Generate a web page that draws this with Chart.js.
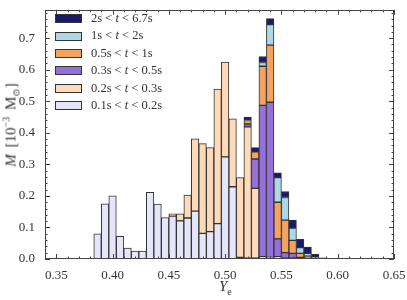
<!DOCTYPE html>
<html>
<head>
<meta charset="utf-8">
<script src="https://cdn.jsdelivr.net/npm/chart.js@4/dist/chart.umd.min.js"></script>
<style>
  body { margin: 0; background: #fff; }
  #wrap { position: relative; width: 407px; height: 300px; font-family: "Liberation Serif", "DejaVu Serif", serif; color: #333; }
  #chart { position: absolute; left: 0; top: 0; }
  #legend { position: absolute; left: 55px; top: 10px; font-size: 12.5px; line-height: 17.4px; }
  #legend div { display: flex; align-items: center; white-space: nowrap; }
  #legend span.box { display: inline-block; width: 25px; height: 7px; border: 1px solid #333; margin-right: 9px; }
  .ytitle { position: absolute; left: 11px; top: 125px; transform: translate(-50%, -50%) rotate(-90deg); font-size: 15px; white-space: nowrap; word-spacing: 3px; }
  .xtitle { position: absolute; left: 219px; top: 278px; font-size: 15px; }
  i { font-style: italic; }
</style>
</head>
<body>
<div id="wrap">
  <canvas id="chart" width="407" height="300"></canvas>
  <div id="legend"></div>
  <div class="ytitle"><i>M</i> [10<sup style="font-size:10px">−3</sup> M<sub style="font-size:10px">⊙</sub>]</div>
  <div class="xtitle"><i>Y</i><sub style="font-size:10px">e</sub></div>
</div>
<script>
// bin centres in Ye
const binCenters = [0.38667, 0.39333, 0.40000, 0.40667, 0.41333, 0.42000, 0.42667, 0.43333, 0.44000, 0.44667,
  0.45333, 0.46000, 0.46667, 0.47333, 0.48000, 0.48667, 0.49333, 0.50000, 0.50667, 0.51333,
  0.52000, 0.52667, 0.53333, 0.54000, 0.54667, 0.55333, 0.56000, 0.56667, 0.57333, 0.58000,
  0.58667, 0.59333, 0.60000, 0.60667];

// mass per bin [10^-3 Msun], one array per time window (bottom of stack first)
const m_01_02 = [0.080, 0.175, 0.200, 0.072, 0.035, 0.025, 0.025, 0.211, 0.174, 0.131,
  0.136, 0.121, 0.130, 0.152, 0.081, 0.087, 0.112, 0.324, 0.229, 0.005,
  0.003, 0.003, 0.002, 0.002, 0.002, 0.001, 0, 0, 0, 0,
  0, 0, 0, 0];
const m_02_03 = [0, 0, 0, 0, 0, 0, 0, 0, 0, 0,
  0.007, 0.022, 0.073, 0.229, 0.285, 0.266, 0.427, 0.300, 0.215, 0.253,
  0.416, 0.221, 0.005, 0.003, 0.005, 0.002, 0.003, 0, 0, 0,
  0, 0, 0, 0];
const m_03_05 = [0, 0, 0, 0, 0, 0, 0, 0, 0, 0,
  0, 0, 0, 0, 0, 0, 0, 0, 0, 0,
  0.009, 0.093, 0.480, 0.492, 0.057, 0.017, 0.015, 0.005, 0.003, 0,
  0, 0, 0, 0];
const m_05_1 = [0, 0, 0, 0, 0, 0, 0, 0, 0, 0,
  0, 0, 0, 0, 0, 0, 0, 0, 0, 0,
  0.011, 0.023, 0.124, 0.181, 0.116, 0.103, 0.041, 0.013, 0.006, 0.002,
  0, 0, 0, 0];
const m_1_2 = [0, 0, 0, 0, 0, 0, 0, 0, 0, 0,
  0, 0, 0, 0, 0, 0, 0, 0, 0, 0,
  0.002, 0, 0.012, 0.065, 0.078, 0.072, 0.039, 0.018, 0.009, 0.004,
  0, 0, 0, 0];
const m_2_67 = [0, 0, 0, 0, 0, 0, 0, 0, 0, 0,
  0, 0, 0, 0, 0, 0, 0, 0, 0, 0,
  0.009, 0.013, 0.019, 0.019, 0.015, 0.019, 0.025, 0.026, 0.020, 0.009,
  0.004, 0.002, 0.002, 0.002];

const xTicks = [0.35, 0.40, 0.45, 0.50, 0.55, 0.60, 0.65];
const yTicks = [0.0, 0.1, 0.2, 0.3, 0.4, 0.5, 0.6, 0.7];

const series = [
  { label: '0.1s < t < 0.2s', html: '0.1s &lt; <i>t</i> &lt; 0.2s', data: m_01_02, color: '#e6e6fa' },
  { label: '0.2s < t < 0.3s', html: '0.2s &lt; <i>t</i> &lt; 0.3s', data: m_02_03, color: '#ffdab9' },
  { label: '0.3s < t < 0.5s', html: '0.3s &lt; <i>t</i> &lt; 0.5s', data: m_03_05, color: '#9370db' },
  { label: '0.5s < t < 1s', html: '0.5s &lt; <i>t</i> &lt; 1s', data: m_05_1, color: '#f4a460' },
  { label: '1s < t < 2s', html: '1s &lt; <i>t</i> &lt; 2s', data: m_1_2, color: '#add8e6' },
  { label: '2s < t < 6.7s', html: '2s &lt; <i>t</i> &lt; 6.7s', data: m_2_67, color: '#191970' }
];

// legend, top entry = last dataset
const legend = document.getElementById('legend');
series.slice().reverse().forEach(s => {
  const row = document.createElement('div');
  row.innerHTML = `<span class="box" style="background:${s.color}"></span><span>${s.html}</span>`;
  legend.appendChild(row);
});

// Mathematica-style frame with inward ticks on all four sides
const frameTicks = {
  id: 'frameTicks',
  afterDatasetsDraw(chart) {
    const { ctx, chartArea: a, scales: { x, y } } = chart;
    ctx.save();
    ctx.strokeStyle = '#444';
    ctx.lineWidth = 1;
    const seg = (x1, y1, x2, y2) => { ctx.beginPath(); ctx.moveTo(x1, y1); ctx.lineTo(x2, y2); ctx.stroke(); };
    for (let i = 34; i <= 65; i++) {
      const px = Math.round(x.getPixelForValue(i / 100)) + 0.5;
      const len = i % 5 === 0 ? 5 : 2.5;
      seg(px, a.bottom, px, a.bottom - len);
      seg(px, a.top, px, a.top + len);
    }
    for (let i = 0; i <= 78; i += 2) {
      const py = Math.round(y.getPixelForValue(i / 100)) + 0.5;
      const len = i % 10 === 0 ? 5 : 2.5;
      seg(a.left, py, a.left + len, py);
      seg(a.right, py, a.right - len, py);
    }
    ctx.strokeRect(Math.round(a.left) + 0.5, Math.round(a.top) + 0.5,
      Math.round(a.right - a.left) - 1, Math.round(a.bottom - a.top) - 1);
    ctx.restore();
  }
};

new Chart(document.getElementById('chart'), {
  type: 'bar',
  data: {
    datasets: series.map(s => ({
      label: s.label,
      data: binCenters.map((c, i) => ({ x: c, y: s.data[i] })),
      backgroundColor: s.color,
      borderColor: '#333',
      borderWidth: 1,
      borderSkipped: false,
      barPercentage: 1,
      categoryPercentage: 1
    }))
  },
  options: {
    responsive: false,
    animation: false,
    layout: { padding: { top: 4, right: 13, left: 0, bottom: 0 } },
    plugins: { legend: { display: false }, tooltip: { enabled: false } },
    scales: {
      x: {
        type: 'linear',
        offset: false,
        stacked: true,
        min: 0.34,
        max: 0.65,
        grid: { display: false },
        border: { display: false },
        afterBuildTicks: s => { s.ticks = xTicks.map(v => ({ value: v })); },
        afterFit: s => { s.height = 41; },
        ticks: {
          padding: 1,
          color: '#333',
          font: { family: 'Liberation Serif', size: 13 },
          callback: v => v.toFixed(2)
        }
      },
      y: {
        stacked: true,
        min: 0,
        max: 0.79,
        grid: { display: false },
        border: { display: false },
        afterBuildTicks: s => { s.ticks = yTicks.map(v => ({ value: v })); },
        afterFit: s => { s.width = 45; },
        ticks: {
          padding: 2,
          color: '#333',
          font: { family: 'Liberation Serif', size: 13 },
          callback: v => v.toFixed(1)
        }
      }
    }
  },
  plugins: [frameTicks]
});
</script>
</body>
</html>
